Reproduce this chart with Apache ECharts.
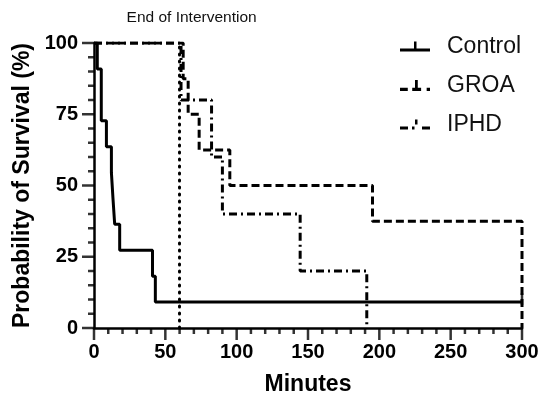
<!DOCTYPE html>
<html>
<head>
<meta charset="utf-8">
<script src="https://cdn.jsdelivr.net/npm/echarts@6/dist/echarts.min.js"></script>
<style>
  html, body { margin: 0; padding: 0; background: #fff; }
  #chart { width: 541px; height: 401px; }
</style>
</head>
<body>
<div id="chart"></div>
<script>
// Kaplan-Meier curves (minutes, % survival)
const controlTime = [0, 2.3, 5.1, 8.7, 12.2, 13.3, 14.5, 18, 41, 43, 300];
const controlSurv = [100, 90.9, 72.7, 63.6, 54.5, 45.5, 36.4, 27.3, 18.2, 9.1, 9.1];

const groaTime = [0, 62.5, 66, 73.7, 95.2, 195.2, 300];
const groaSurv = [100, 87.5, 75, 62.5, 50, 37.5, 0];

const iphdTime = [0, 61, 82.4, 90, 144.5, 191.2];
const iphdSurv = [100, 80, 60, 40, 20, 0];

// censored observation at the end of the Control curve
const controlCensor = [[300, 9.1]];

const interventionEnd = 60;
const seriesNames = ['Control', 'GROA', 'IPHD'];

// axis tick values (major / minor)
const xMajorTicks = [0, 50, 100, 150, 200, 250, 300];
const xMinorTicks = [10, 20, 30, 40, 60, 70, 80, 90, 110, 120, 130, 140, 160, 170, 180, 190, 210, 220, 230, 240, 260, 270, 280, 290];
const yMajorTicks = [0, 25, 50, 75, 100];
const yMinorTicks = [5, 10, 15, 20, 30, 35, 40, 45, 55, 60, 65, 70, 80, 85, 90, 95];

const zip = (xs, ys) => xs.map((x, i) => [x, ys[i]]);

const FONT = 'Liberation Sans, Arial, sans-serif';
const INK = '#000';

// legend marks: line pattern with the small censor tick
const ICON_CONTROL = 'path://M0,8 h30 v3 h-30 z M14,1 h2.5 v7 h-2.5 z';
const ICON_GROA = 'path://M0,8 h7 v3 h-7 z M11,8 h8 v3 h-8 z M13.5,1 h2.5 v7 h-2.5 z M24,8 h3 v3 h-3 z';
const ICON_IPHD = 'path://M0,8 h8 v3 h-8 z M12,8 h2.5 v3 h-2.5 z M15,1 h2.5 v5 h-2.5 z M22,8 h8 v3 h-8 z';
const legendIcons = [ICON_CONTROL, ICON_GROA, ICON_IPHD];

const chart = echarts.init(document.getElementById('chart'));

// the built-in ticks did not render here, so draw them as marks on the axes
const tickMarks = (name, data, size, offset) => ({
  name,
  type: 'scatter',
  data,
  symbol: 'rect',
  symbolSize: size,
  symbolOffset: offset,
  itemStyle: { color: INK },
  clip: false,
  silent: true,
  z: 1,
});

const option = {
  animation: false,
  grid: {
    left: 94,
    right: 19,
    top: 43,
    bottom: 73,
    containLabel: false,
    outerBoundsMode: 'none',
  },
  legend: {
    data: seriesNames.map((name, i) => ({ name, icon: legendIcons[i] })),
    orient: 'vertical',
    left: 395,
    top: 30,
    itemWidth: 30,
    itemHeight: 12,
    itemGap: 16,
    textStyle: {
      fontFamily: FONT,
      fontSize: 23,
      color: '#111',
      padding: [0, 0, 0, 12],
    },
  },
  xAxis: {
    type: 'value',
    min: 0,
    max: 300,
    interval: 50,
    name: 'Minutes',
    nameLocation: 'middle',
    nameGap: 45,
    nameTextStyle: { fontFamily: FONT, fontSize: 23, fontWeight: 'bold', color: INK },
    axisLine: { show: true, onZero: false, lineStyle: { color: INK, width: 2.5 } },
    axisTick: { show: false },
    axisLabel: { margin: 14, fontFamily: FONT, fontSize: 20, fontWeight: 'bold', color: INK },
    splitLine: { show: false },
  },
  yAxis: {
    type: 'value',
    min: 0,
    max: 100,
    interval: 25,
    name: 'Probability of Survival (%)',
    nameLocation: 'middle',
    nameGap: 60,
    nameTextStyle: { fontFamily: FONT, fontSize: 23, fontWeight: 'bold', color: INK },
    axisLine: { show: true, lineStyle: { color: INK, width: 2.5 } },
    axisTick: { show: false },
    axisLabel: { margin: 16, fontFamily: FONT, fontSize: 20, fontWeight: 'bold', color: INK },
    splitLine: { show: false },
  },
  series: [
    {
      name: 'Control',
      type: 'line',
      step: 'end',
      symbol: 'none',
      data: zip(controlTime, controlSurv),
      lineStyle: { color: INK, width: 3 },
      itemStyle: { color: INK },
      markLine: {
        silent: true,
        symbol: 'none',
        data: [{ xAxis: interventionEnd }],
        lineStyle: { color: INK, width: 3, type: [1, 6], cap: 'round' },
        label: {
          show: true,
          position: 'end',
          formatter: 'End of Intervention',
          distance: 17,
          offset: [12, 0],
          fontFamily: FONT,
          fontSize: 15.5,
          color: '#111',
        },
      },
    },
    {
      name: 'GROA',
      type: 'line',
      step: 'end',
      symbol: 'none',
      data: zip(groaTime, groaSurv),
      lineStyle: { color: INK, width: 3, type: [8, 4] },
      itemStyle: { color: INK },
    },
    {
      name: 'IPHD',
      type: 'line',
      step: 'end',
      symbol: 'none',
      data: zip(iphdTime, iphdSurv),
      lineStyle: { color: INK, width: 3, type: [8, 4, 2, 4] },
      itemStyle: { color: INK },
    },
    tickMarks('controlCensor', controlCensor, [2.5, 12], [0, -3]),
    tickMarks('xMajor', xMajorTicks.map((v) => [v, 0]), [2.5, 12], [0, 6]),
    tickMarks('xMinor', xMinorTicks.map((v) => [v, 0]), [2.5, 6], [0, 3]),
    tickMarks('yMajor', yMajorTicks.map((v) => [0, v]), [12, 2.5], [-6, 0]),
    tickMarks('yMinor', yMinorTicks.map((v) => [0, v]), [6, 2.5], [-3, 0]),
  ],
};

chart.setOption(option);
</script>
</body>
</html>
